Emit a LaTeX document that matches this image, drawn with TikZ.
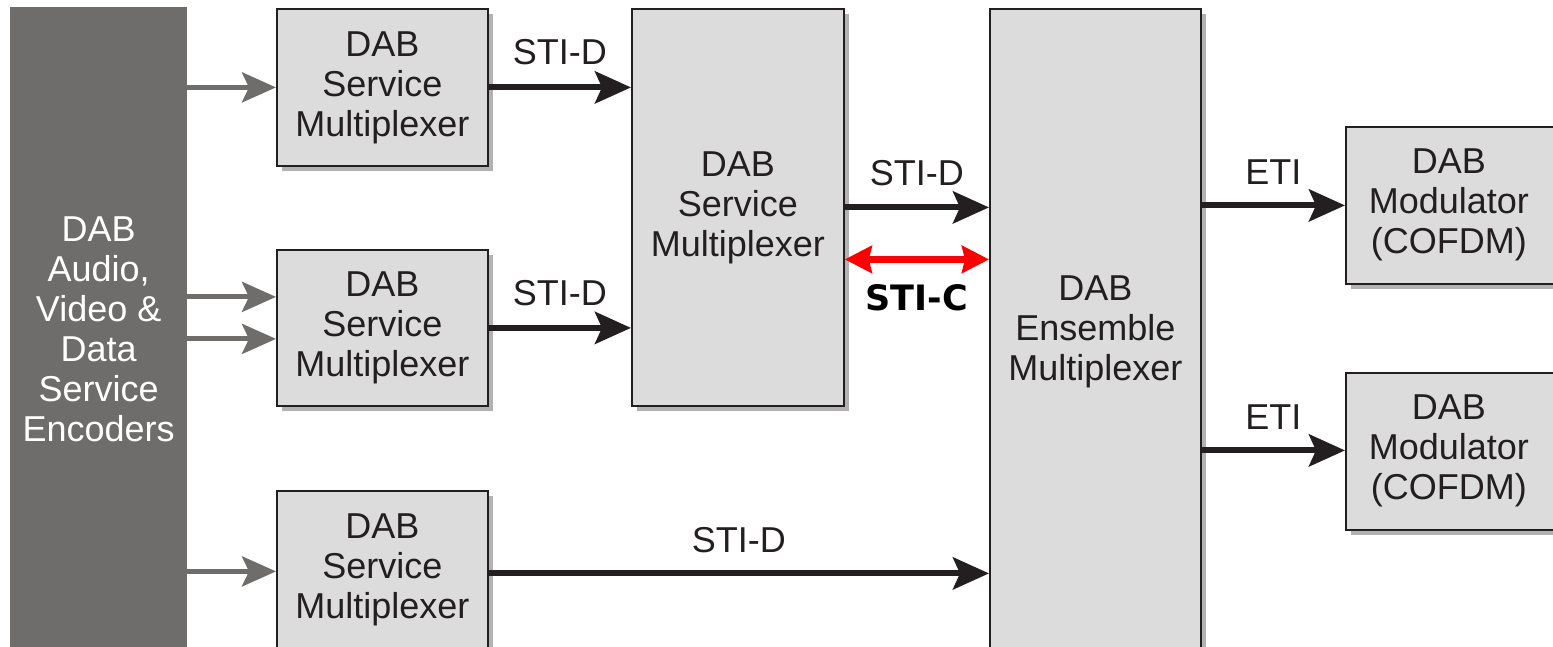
\documentclass[tikz,border=0pt]{standalone}
\usepackage{fontspec}
\setmainfont{Liberation Sans}
\newfontfamily\boldlab{DejaVu Sans}
\usetikzlibrary{arrows.meta,shadows,calc}
\definecolor{boxfill}{HTML}{DCDCDC}
\definecolor{ink}{HTML}{231F20}
\definecolor{encgray}{HTML}{6F6D6B}
\begin{document}
\begin{tikzpicture}[x=1pt,y=1pt,
  blk/.style={draw=ink,line width=1.8pt,fill=boxfill,anchor=north west,inner sep=0pt,
    align=center,text=ink,font=\fontsize{36}{40}\selectfont,
    drop shadow={shadow xshift=5pt,shadow yshift=-5pt,fill=black,opacity=0.3}},
  enc/.style={fill=encgray,anchor=north west,inner sep=0pt,align=center,text=white,
    font=\fontsize{36}{40}\selectfont},
  dataarrow/.style={draw=ink,line width=6pt,-{Stealth[length=36pt,width=32pt,inset=7pt]}},
  grayarrow/.style={draw=encgray,line width=5pt,-{Stealth[length=34pt,width=30pt,inset=7pt]}},
  ctrlarrow/.style={draw=red,line width=7pt,{Stealth[length=27pt,width=27pt,inset=3pt]}-{Stealth[length=27pt,width=27pt,inset=3pt]}},
  lab/.style={inner sep=0pt,text=ink,font=\fontsize{36}{40}\selectfont},
  boldl/.style={inner sep=0pt,text=black,font=\boldlab\bfseries\fontsize{35}{40}\selectfont}]
\useasboundingbox (0,0) rectangle (1553,-647);

\node[enc,minimum width=177pt,minimum height=645pt] (enc) at (10,-7) {DAB\\Audio,\\Video \&\\Data\\Service\\Encoders};

\node[blk,minimum width=211pt,minimum height=157pt] (sm1) at (276,-8) {DAB\\Service\\Multiplexer};
\node[blk,minimum width=211pt,minimum height=156pt] (sm2) at (276,-249) {DAB\\Service\\Multiplexer};
\node[blk,minimum width=211pt,minimum height=157pt] (sm3) at (276,-490) {DAB\\Service\\Multiplexer};
\node[blk,minimum width=212pt,minimum height=397pt] (mid) at (631,-8) {DAB\\Service\\Multiplexer};
\node[blk,minimum width=211pt,minimum height=645pt] (ens) at (989,-8) {DAB\\Ensemble\\Multiplexer};
\node[blk,minimum width=222pt,minimum height=157pt] (mod1) at (1345,-126)
  {\begin{tabular}{@{}c@{\hspace{16pt}}}DAB\\Modulator\\(COFDM)\end{tabular}};
\node[blk,minimum width=222pt,minimum height=157pt] (mod2) at (1345,-372)
  {\begin{tabular}{@{}c@{\hspace{16pt}}}DAB\\Modulator\\(COFDM)\end{tabular}};

% encoder feeds
\draw[grayarrow] (sm1.west -| enc.east) -- (sm1.west);
\draw[grayarrow] ($(sm2.west -| enc.east)+(0,31)$) -- ($(sm2.west)+(0,31)$);
\draw[grayarrow] ($(sm2.west -| enc.east)+(0,-11)$) -- ($(sm2.west)+(0,-11)$);
\draw[grayarrow] ($(sm3.west -| enc.east)+(0,-2)$) -- ($(sm3.west)+(0,-2)$);

% STI-D
\draw[dataarrow] (sm1.east) -- (sm1.east -| mid.west) node[lab,midway,yshift=35pt] {STI-D};
\draw[dataarrow] (sm2.east) -- (sm2.east -| mid.west) node[lab,midway,yshift=35pt] {STI-D};
\draw[dataarrow] (mid.east) -- (mid.east -| ens.west) node[lab,midway,yshift=34pt] {STI-D};
\draw[dataarrow] ($(sm3.east)+(0,-4)$) -- ($(sm3.east -| ens.west)+(0,-4)$) node[lab,midway,yshift=33pt] {STI-D};

% STI-C
\draw[ctrlarrow] ($(mid.east)+(0,-52)$) -- ($(mid.east -| ens.west)+(0,-52)$) node[boldl,midway,yshift=-38pt] {STI-C};

% ETI
\draw[dataarrow] (mod1.west -| ens.east) -- (mod1.west) node[lab,midway,yshift=33pt] {ETI};
\draw[dataarrow] ($(mod2.west -| ens.east)+(0,1)$) -- ($(mod2.west)+(0,1)$) node[lab,midway,yshift=33pt] {ETI};
\end{tikzpicture}
\end{document}
